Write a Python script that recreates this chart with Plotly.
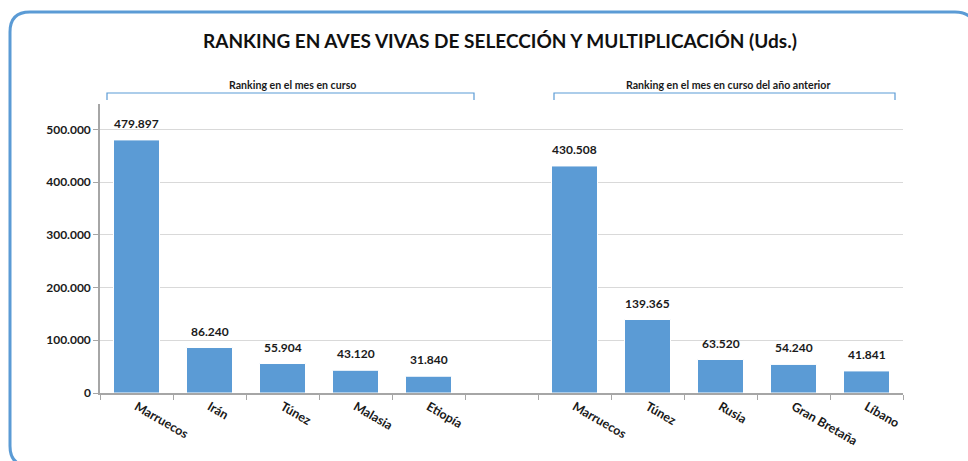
import plotly.graph_objects as go

# ---- data ----
cats_current = ["Marruecos", "Irán", "Túnez", "Malasia", "Etiopía"]
vals_current = [479897, 86240, 55904, 43120, 31840]
cats_prev = ["Marruecos", "Túnez", "Rusia", "Gran Bretaña", "Líbano"]
vals_prev = [430508, 139365, 63520, 54240, 41841]
y_ticks = [0, 100000, 200000, 300000, 400000, 500000]
y_tick_text = ["0", "100.000", "200.000", "300.000", "400.000", "500.000"]
title_text = "RANKING EN AVES VIVAS DE SELECCIÓN Y MULTIPLICACIÓN (Uds.)"
group_labels = ["Ranking en el mes en curso", "Ranking en el mes en curso del año anterior"]

# unique category keys (second group suffixed with zero-width space), gap slot in between
gap_key = " "
keys_current = cats_current
keys_prev = [c + "\u200b" for c in cats_prev]
categories = keys_current + [gap_key] + keys_prev
ticktext = cats_current + [""] + cats_prev

FONT = "Lato, Calibri, Carlito, 'Open Sans', sans-serif"
BAR = "#5b9bd5"
W, H = 968, 461
ML, MR, MT, MB = 100, 65, 104, 68
PW, PH = W - ML - MR, H - MT - MB


def px(x):
    return (x - ML) / PW


def py(y):
    return (H - MB - y) / PH


def fmt(v):
    return f"{v:,}".replace(",", ".")


fig = go.Figure()
fig.add_trace(go.Bar(x=keys_current, y=vals_current, marker=dict(color=BAR, line=dict(color="white", width=1)),
                     hoverinfo="x+y", showlegend=False))
fig.add_trace(go.Bar(x=keys_prev, y=vals_prev, marker=dict(color=BAR, line=dict(color="white", width=1)),
                     hoverinfo="x+y", showlegend=False))

annotations = []
for k, v in list(zip(keys_current, vals_current)) + list(zip(keys_prev, vals_prev)):
    annotations.append(dict(x=k, y=v, xref="x", yref="y", text=fmt(v), showarrow=False,
                            yanchor="bottom", yshift=7,
                            font=dict(family=FONT, size=12, color="#1a1a1a", weight="bold")))

# group labels
annotations.append(dict(x=px(292), y=py(85), xref="paper", yref="paper", text=group_labels[0],
                        showarrow=False, xanchor="center", yanchor="middle",
                        font=dict(family=FONT, size=10.6, color="#1a1a1a", weight="bold")))
annotations.append(dict(x=px(728), y=py(85), xref="paper", yref="paper", text=group_labels[1],
                        showarrow=False, xanchor="center", yanchor="middle",
                        font=dict(family=FONT, size=10.6, color="#1a1a1a", weight="bold")))

shapes = []
# brackets
for x0, x1 in [(107, 474), (554, 895)]:
    shapes.append(dict(type="path", xref="paper", yref="paper",
                       path=f"M {px(x0)} {py(100)} L {px(x0)} {py(93)} L {px(x1)} {py(93)} L {px(x1)} {py(100)}",
                       line=dict(color=BAR, width=1.2)))

# rounded border
x0, y0, x1, y1, r = 10, 12, 975, 466, 20
path = (f"M {px(x0 + r)} {py(y0)} L {px(x1 - r)} {py(y0)} "
        f"Q {px(x1)} {py(y0)} {px(x1)} {py(y0 + r)} "
        f"L {px(x1)} {py(y1 - r)} Q {px(x1)} {py(y1)} {px(x1 - r)} {py(y1)} "
        f"L {px(x0 + r)} {py(y1)} Q {px(x0)} {py(y1)} {px(x0)} {py(y1 - r)} "
        f"L {px(x0)} {py(y0 + r)} Q {px(x0)} {py(y0)} {px(x0 + r)} {py(y0)} Z")
shapes.append(dict(type="path", xref="paper", yref="paper", path=path,
                   line=dict(color=BAR, width=3), layer="above"))

fig.update_layout(
    width=W, height=H,
    margin=dict(l=ML, r=MR, t=MT, b=MB),
    paper_bgcolor="white", plot_bgcolor="white",
    bargap=0.37,
    barmode="overlay",
    title=dict(text=title_text, x=500 / W, y=1 - 41 / H, xanchor="center", yanchor="middle",
               xref="container", yref="container",
               font=dict(family=FONT, size=19, color="#111111", weight="bold")),
    xaxis=dict(type="category", categoryorder="array", categoryarray=categories,
               tickmode="array", tickvals=categories, ticktext=ticktext,
               tickson="boundaries", ticks="outside", ticklen=5, tickcolor="#a6a6a6",
               showline=True, linecolor="#a6a6a6", linewidth=1.5,
               tickangle=30, range=[-0.5, 10.5],
               tickfont=dict(family=FONT, size=12.5, color="#1a1a1a", weight="bold"),
               showgrid=False, zeroline=False, fixedrange=True),
    yaxis=dict(range=[0, 548000], tickmode="array", tickvals=y_ticks, ticktext=y_tick_text,
               ticks="outside", ticklen=5, tickcolor="#a6a6a6",
               showline=True, linecolor="#a6a6a6", linewidth=1.5,
               showgrid=True, gridcolor="#d9d9d9", gridwidth=1, zeroline=False,
               tickfont=dict(family=FONT, size=12, color="#1a1a1a", weight="bold"),
               fixedrange=True),
    annotations=annotations,
    shapes=shapes,
)

fig.write_html("out.html", config={"displayModeBar": False},
               post_script="document.body.style.margin='0';document.body.style.overflow='hidden';")
